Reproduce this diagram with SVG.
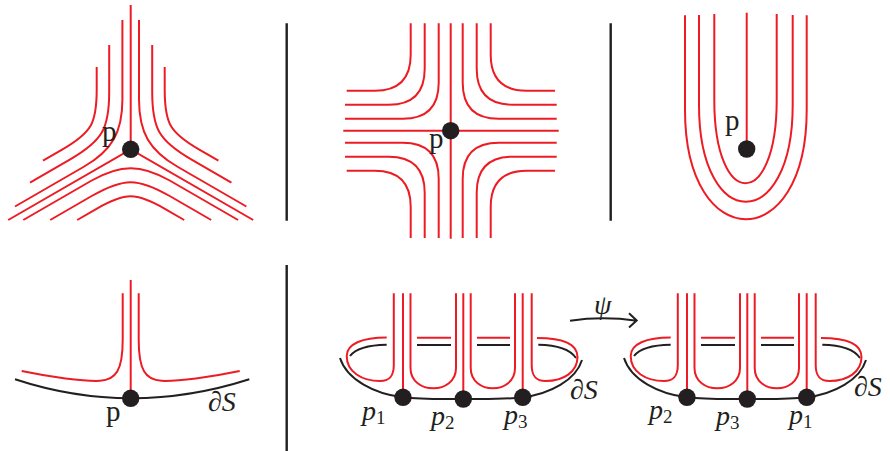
<svg xmlns="http://www.w3.org/2000/svg" xmlns:xlink="http://www.w3.org/1999/xlink" width="890" height="451" viewBox="0 0 890 451">
<style>
.r{fill:none;stroke:#ed1c24;stroke-width:2}
.k{fill:none;stroke:#231f20;stroke-width:2}
.sep{fill:none;stroke:#231f20;stroke-width:2.4}
.dot{fill:#231f20}
.lab{font-family:"Liberation Serif","DejaVu Serif",serif;font-size:29px;fill:#231f20}
.it{font-family:"Liberation Serif","DejaVu Serif",serif;font-style:italic;font-size:28px;fill:#231f20}
.sub{font-size:19px;font-style:normal}
</style>
<rect width="890" height="451" fill="#fff"/>
<g id="separators">
<path class="sep" d="M286.7,23.3V220.7M610.7,23.3V220.7M286.7,265V451"/>
</g>
<g id="panel1">
<path class="r" d="M130.7,5V149.3M8.2,220L130.7,149.3L253.2,220"/>
<path class="r" d="M122.4,20V99.5C122.4,132.5 112,150.5 83.4,167L15,206.5"/>
<path class="r" d="M139,20V99.5C139,132.5 149.4,150.5 178,167L246.4,206.5"/>
<path class="r" d="M109.2,45V91.9C109.2,128.9 102.3,140.9 70.2,159.4L30,182.6"/>
<path class="r" d="M152.2,45V91.9C152.2,128.9 159.1,140.9 191.2,159.4L231.4,182.6"/>
<path class="r" d="M96.7,67V89.7C96.7,123.7 91.5,132.7 62.1,149.7L43,160.7"/>
<path class="r" d="M164.7,67V89.7C164.7,123.7 169.9,132.7 199.3,149.7L218.4,160.7"/>
<path class="r" d="M23.3,220L91.7,180.5C120.3,164 141.1,164 169.7,180.5L238.1,220"/>
<path class="r" d="M50.2,220L91.7,196C123.8,177.5 137.6,177.5 169.7,196L211.2,220"/>
<path class="r" d="M77.2,220L96.1,209.1C125.5,192.1 135.9,192.1 165.3,209.1L184.2,220"/>
<circle class="dot" cx="130.7" cy="149.3" r="8.7"/>
<text class="lab" x="102" y="141">p</text>
</g>
<g id="panel2">
<path class="r" d="M343.3,130.7H558.7M450.7,23.3V238.7"/>
<path class="r" d="M438.7,23.3V82.7C438.7,106.7 426.7,118.7 402.7,118.7H345"/>
<path class="r" d="M424.7,23.3V68.7C424.7,92.7 412.7,104.7 388.7,104.7H345"/>
<path class="r" d="M410.7,23.3V54.7C410.7,78.7 398.7,90.7 374.7,90.7H346.7"/>
<path class="r" d="M462.7,23.3V82.7C462.7,106.7 474.7,118.7 498.7,118.7H556.7"/>
<path class="r" d="M476.7,23.3V68.7C476.7,92.7 488.7,104.7 512.7,104.7H556.7"/>
<path class="r" d="M490.7,23.3V54.7C490.7,78.7 502.7,90.7 526.7,90.7H555"/>
<path class="r" d="M438.7,238.1V178.7C438.7,154.7 426.7,142.7 402.7,142.7H345"/>
<path class="r" d="M424.7,238.1V192.7C424.7,168.7 412.7,156.7 388.7,156.7H345"/>
<path class="r" d="M410.7,238.1V206.7C410.7,182.7 398.7,170.7 374.7,170.7H346.7"/>
<path class="r" d="M462.7,238.1V178.7C462.7,154.7 474.7,142.7 498.7,142.7H556.7"/>
<path class="r" d="M476.7,238.1V192.7C476.7,168.7 488.7,156.7 512.7,156.7H556.7"/>
<path class="r" d="M490.7,238.1V206.7C490.7,182.7 502.7,170.7 526.7,170.7H555"/>
<circle class="dot" cx="450.7" cy="130.7" r="8.7"/>
<text class="lab" x="429" y="148">p</text>
</g>
<g id="panel3">
<path class="r" d="M746.7,12.7V149"/>
<path class="r" d="M714.3,14V100C714.3,211 776.7,211 776.7,100V14"/>
<path class="r" d="M699,15V105C699,234 792.7,234 792.7,105V15"/>
<path class="r" d="M685,15.3V110C685,255.7 806.7,255.7 806.7,110V15.3"/>
<circle class="dot" cx="746.7" cy="149" r="8.7"/>
<text class="lab" x="725" y="130">p</text>
</g>
<g id="panel4">
<path class="k" d="M15,379.3Q130.7,417.3 249.3,379.3"/>
<path class="r" d="M130.7,280V398.3"/>
<path class="r" d="M122.7,293.3V340C122.7,370 116,380 100,380.8C84,381.5 50,377 21.7,371"/>
<path class="r" d="M138.7,293.3V340C138.7,370 145.4,380 161.4,380.8C177.4,381.5 211.4,377 239.7,371"/>
<circle class="dot" cx="130.7" cy="398.3" r="8.7"/>
<text class="lab" x="106" y="421">p</text>
<text class="it" x="208" y="411">∂S</text>
</g>
<defs>
<g id="boundaryFig">
<path class="k" d="M340,358C347,380 375,394 402.7,397.3C422,399.6 443,399 463.3,399C483.6,399 503.4,399.6 522.7,397.3C550,394 576,380 582,360"/>
<path class="k" d="M350,356C356,348 368,345 386.7,344.7M417,345H451M477,345H510M538.3,344.7C557,345 570,349 576,358"/>
<path class="r" d="M393.8,293.3V365C393.8,377 389,381 380,381C362,381 346.7,372 346.7,356C346.7,344 362,337.5 386.7,337.5"/>
<path class="r" d="M403,293.3V397.3M463.3,293.3V399M522.7,293.3V397.3"/>
<path class="r" d="M410.5,293.3V368C410.5,395 456,395 456,368V293.3"/>
<path class="r" d="M470.7,293.3V368C470.7,395 515,395 515,368V293.3"/>
<path class="r" d="M531.7,293.3V365C531.7,377 536.5,381 545.5,381C563.5,381 577.5,372 577.5,357C577.5,344 562,338 537,338"/>
<path class="r" d="M417,337.8H451M477,337.8H510"/>
<circle class="dot" cx="403" cy="397.3" r="8.7"/>
<circle class="dot" cx="463.3" cy="399" r="8.7"/>
<circle class="dot" cx="522.7" cy="397.3" r="8.7"/>
</g>
</defs>
<g id="panel5">
<use xlink:href="#boundaryFig" href="#boundaryFig"/>
<text class="it" x="362" y="420">p<tspan class="sub" dy="4">1</tspan></text>
<text class="it" x="431" y="425">p<tspan class="sub" dy="4">2</tspan></text>
<text class="it" x="504" y="423.5">p<tspan class="sub" dy="4">3</tspan></text>
<text class="it" x="570" y="399">∂S</text>
</g>
<g id="connectors">
<path class="k" d="M570,320.7Q603,316 636.7,320.7M629,313.3L636.7,320.5L629,327.5" stroke-width="1.8"/>
<text class="it" x="594" y="314" font-size="29">ψ</text>
</g>
<g id="panel6">
<use xlink:href="#boundaryFig" href="#boundaryFig" transform="translate(284,0)"/>
<text class="it" x="649" y="419">p<tspan class="sub" dy="4">2</tspan></text>
<text class="it" x="716" y="425">p<tspan class="sub" dy="4">3</tspan></text>
<text class="it" x="789" y="423.5">p<tspan class="sub" dy="4">1</tspan></text>
<text class="it" x="854" y="396">∂S</text>
</g>
</svg>
